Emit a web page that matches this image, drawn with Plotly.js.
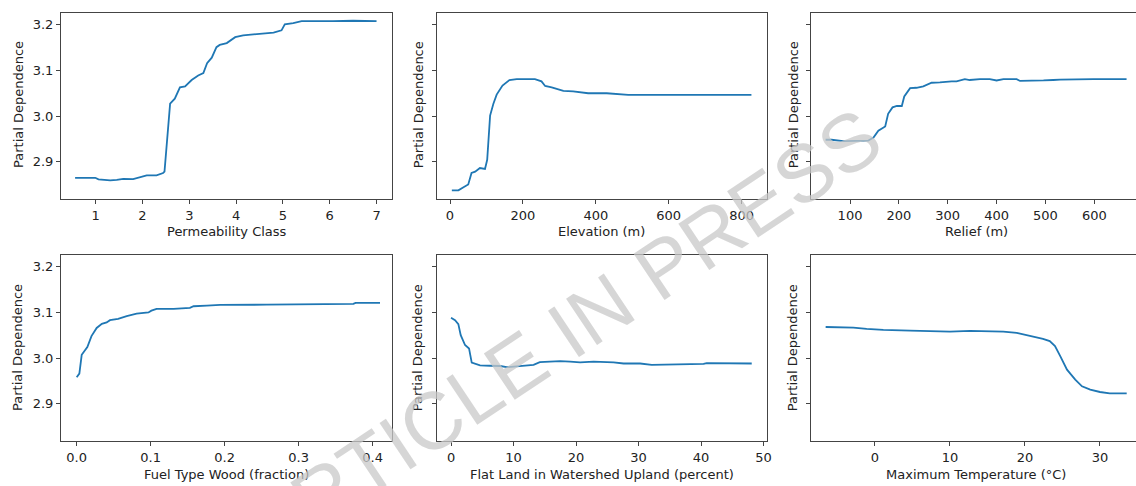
<!DOCTYPE html>
<html>
<head>
<meta charset="utf-8">
<script src="https://cdn.plot.ly/plotly-3.0.1.min.js"></script>
<style>html,body{margin:0;padding:0;background:#fff}#chart{width:1136px;height:486px}</style>
</head>
<body>
<div id="chart"></div>
<script>
// ---- data ----
const permX = [0.56,0.99,1.06,1.31,1.45,1.59,1.80,1.95,2.09,2.30,2.44,2.47,2.59,2.69,2.80,2.91,3.05,3.19,3.30,3.38,3.48,3.58,3.65,3.80,3.98,4.15,4.37,4.65,4.80,4.97,5.04,5.22,5.40,6.07,6.50,7.00];
const permY = [2.8645,2.8645,2.861,2.859,2.860,2.862,2.8615,2.866,2.870,2.870,2.875,2.878,3.027,3.038,3.063,3.065,3.079,3.089,3.094,3.116,3.128,3.151,3.156,3.160,3.173,3.177,3.179,3.180,3.183,3.188,3.201,3.204,3.208,3.208,3.209,3.208];

const elevX = [5,23,37,50,59,69,82,96,102,110,119,128,144,163,183,210,233,251,261,279,306,311,338,379,430,489,539,631,722,827];
const elevY = [2.837,2.837,2.844,2.850,2.875,2.878,2.886,2.884,2.904,3.001,3.027,3.047,3.067,3.079,3.081,3.081,3.081,3.076,3.066,3.063,3.056,3.055,3.054,3.050,3.050,3.0465,3.0465,3.0465,3.0465,3.0465];

const reliefX = [50,62,86,114,137,148,158,172,178,187,196,206,211,223,236,250,267,284,298,308,318,335,345,366,386,400,414,441,448,475,496,516,530,598,666];
const reliefY = [2.948,2.948,2.945,2.945,2.946,2.953,2.968,2.977,3.005,3.019,3.022,3.022,3.043,3.061,3.062,3.065,3.073,3.074,3.076,3.076,3.076,3.081,3.079,3.081,3.081,3.078,3.081,3.081,3.077,3.077,3.078,3.079,3.080,3.081,3.081];

const woodX = [0.0,0.0036,0.0068,0.0144,0.020,0.027,0.034,0.0405,0.045,0.056,0.0676,0.081,0.097,0.101,0.108,0.131,0.153,0.158,0.176,0.194,0.257,0.324,0.374,0.377,0.410];
const woodY = [2.958,2.966,3.007,3.024,3.048,3.066,3.075,3.078,3.083,3.086,3.092,3.0975,3.100,3.104,3.108,3.108,3.110,3.1136,3.115,3.1166,3.117,3.118,3.1187,3.121,3.121];

const flatX = [0,0.64,1.17,1.55,2.24,2.88,3.31,4.64,6.24,7.84,8.9,10.5,12.1,13.2,14.2,15.8,17.45,19.05,20.65,22.8,26.0,27.6,30.25,32.1,34.5,37.7,40.4,40.9,44.7,48.1];
const flatY = [3.0883,3.083,3.0745,3.050,3.0285,3.021,2.990,2.984,2.983,2.9825,2.980,2.982,2.984,2.985,2.991,2.992,2.993,2.992,2.9905,2.992,2.9905,2.988,2.988,2.985,2.986,2.986,2.987,2.989,2.989,2.988];

const tempX = [-6.58,-4.67,-2.89,-1.11,1.11,4.67,7.78,10.0,12.67,15.78,17.1,18.9,20.2,21.1,22.4,23.3,24.0,24.7,25.6,26.7,27.6,28.7,30.0,31.3,33.56];
const tempY = [3.068,3.068,3.0667,3.064,3.0617,3.060,3.058,3.058,3.0594,3.058,3.058,3.055,3.0507,3.0463,3.042,3.037,3.026,3.004,2.9745,2.9526,2.938,2.9306,2.9255,2.9225,2.9225];

const xTitles = ["Permeability Class","Elevation (m)","Relief (m)","Fuel Type Wood (fraction)","Flat Land in Watershed Upland (percent)","Maximum Temperature (°C)"];
const xTicks = [[1,2,3,4,5,6,7],[0,200,400,600,800],[100,200,300,400,500,600],[0,0.1,0.2,0.3,0.4],[0,10,20,30,40,50],[0,10,20,30]];
const yTicks = [2.9,3.0,3.1,3.2];
const yTitle = "Partial Dependence";
const watermark = "ARTICLE IN PRESS";

// ---- layout geometry ----
const series = [[permX,permY],[elevX,elevY],[reliefX,reliefY],[woodX,woodY],[flatX,flatY],[tempX,tempY]];
const xRanges = [[0.259,7.33],[-36.5,869],[20.2,685.3],[-0.0212,0.4262],[-2.29,50.5],[-8.53,34.8]];
const colDom = [[0,0.3079],[0.3495,0.6565],[0.6977,1]];
const rowDom = [[0.5654,1],[0,0.4346]];
const yRange = [2.818,3.226];
const ytitleX = [-0.04,0.3324,0.6812];
const ytitleY = [0.785,0.2173];
const xtitleX = [0.1540,0.5030,0.8512];
const xtitleY = [0.489,-0.0794];

const traces = [];
const layout = {
  width:1136, height:486,
  margin:{l:61,r:0,t:13,b:45},
  paper_bgcolor:"#fff", plot_bgcolor:"#fff",
  showlegend:false,
  font:{family:"DejaVu Sans", size:13, color:"#222"},
  annotations:[]
};
const axisCommon = {showgrid:false, zeroline:false, showline:true, linecolor:"#444", linewidth:1,
  ticks:"outside", ticklen:4, tickwidth:1, tickcolor:"#444", fixedrange:true};

series.forEach((s,i)=>{
  const row = Math.floor(i/3), col = i%3;
  const n = i===0 ? "" : String(i+1);
  traces.push({x:s[0], y:s[1], type:"scatter", mode:"lines",
    line:{color:"#1f77b4", width:1.8}, xaxis:"x"+n, yaxis:"y"+n, hoverinfo:"skip"});
  layout["xaxis"+n] = Object.assign({}, axisCommon, {
    domain:colDom[col], anchor:"y"+n, range:xRanges[i], mirror:true,
    tickmode:"array", tickvals:xTicks[i], tickformat: i===3 ? ".1f" : ""
  });
  layout["yaxis"+n] = Object.assign({}, axisCommon, {
    domain:rowDom[row], anchor:"x"+n, range:yRange, mirror: col<2,
    tickmode:"array", tickvals:yTicks, tickformat:".1f", showticklabels: col===0
  });
  layout.annotations.push({text:yTitle, xref:"paper", yref:"paper", x:ytitleX[col], y:ytitleY[row],
    xanchor:"center", yanchor:"middle", textangle:-90, showarrow:false, font:{size:13}});
  layout.annotations.push({text:xTitles[i], xref:"paper", yref:"paper", x:xtitleX[col], y:xtitleY[row],
    xanchor:"center", yanchor:"middle", showarrow:false, font:{size:13}});
});

layout.annotations.push({text:watermark, xref:"paper", yref:"paper", x:0.467, y:0.25,
  xanchor:"center", yanchor:"middle", textangle:-33.7, showarrow:false,
  font:{family:"Liberation Sans", size:81, color:"rgba(200,200,200,0.75)"}});

Plotly.newPlot("chart", traces, layout, {displayModeBar:false, staticPlot:true});
</script>
</body>
</html>
